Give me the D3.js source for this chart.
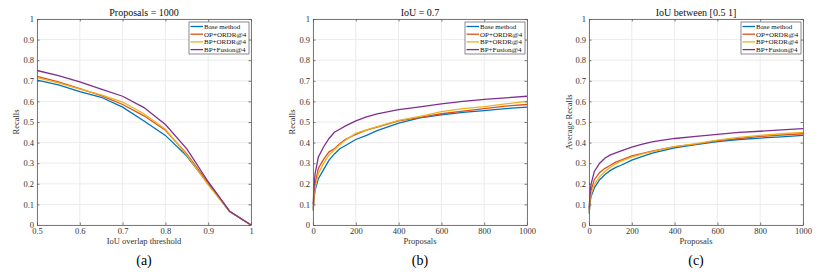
<!DOCTYPE html>
<html>
<head>
<meta charset="utf-8">
<script src="https://cdn.jsdelivr.net/npm/d3@7"></script>
<style>
  body { margin: 0; background: #fff; }
  svg { display: block; }
  text { font-family: "Liberation Serif", "DejaVu Serif", serif; }
</style>
</head>
<body>
<svg id="chart" width="830" height="277"></svg>
<script>
// series names + colours (matlab default order)
const methods = ["Base method", "OP+ORDR@4", "BP+ORDR@4", "BP+Fusion@4"];
const colors = ["#0072BD", "#D95319", "#EDB120", "#7E2F8E"];

// (a) recall vs IoU threshold, 1000 proposals
const iouX = [0.5, 0.55, 0.6, 0.65, 0.7, 0.75, 0.8, 0.85, 0.9, 0.95, 1.0];
const iouBase   = [0.703, 0.680, 0.648, 0.620, 0.572, 0.505, 0.435, 0.335, 0.200, 0.065, 0];
const iouOP     = [0.722, 0.695, 0.662, 0.628, 0.585, 0.530, 0.460, 0.345, 0.205, 0.067, 0];
const iouBP     = [0.715, 0.690, 0.660, 0.632, 0.597, 0.540, 0.465, 0.340, 0.195, 0.065, 0];
const iouFusion = [0.750, 0.725, 0.695, 0.660, 0.625, 0.570, 0.488, 0.370, 0.210, 0.067, 0];

// (b) recall vs proposals, IoU = 0.7
const propX = [1, 5, 10, 25, 50, 75, 100, 125, 150, 200, 250, 300, 400, 500, 600, 700, 800, 900, 1000];
const recBase   = [0.07, 0.13, 0.17, 0.225, 0.27, 0.315, 0.345, 0.37, 0.385, 0.415, 0.435, 0.458, 0.495, 0.52, 0.535, 0.547, 0.555, 0.565, 0.572];
const recOP     = [0.08, 0.15, 0.20, 0.275, 0.32, 0.355, 0.37, 0.395, 0.415, 0.44, 0.46, 0.475, 0.505, 0.522, 0.54, 0.553, 0.565, 0.577, 0.585];
const recBP     = [0.075, 0.14, 0.18, 0.25, 0.30, 0.34, 0.365, 0.39, 0.41, 0.445, 0.462, 0.478, 0.508, 0.527, 0.55, 0.565, 0.575, 0.588, 0.60];
const recFusion = [0.10, 0.19, 0.25, 0.33, 0.38, 0.42, 0.45, 0.465, 0.48, 0.505, 0.525, 0.54, 0.56, 0.573, 0.588, 0.60, 0.61, 0.617, 0.625];

// (c) average recall vs proposals, IoU in [0.5 1]
const arBase   = [0.055, 0.11, 0.14, 0.18, 0.22, 0.245, 0.265, 0.28, 0.29, 0.315, 0.333, 0.35, 0.375, 0.39, 0.405, 0.415, 0.422, 0.428, 0.435];
const arOP     = [0.07, 0.135, 0.17, 0.22, 0.255, 0.275, 0.29, 0.305, 0.315, 0.335, 0.348, 0.36, 0.38, 0.393, 0.41, 0.42, 0.43, 0.437, 0.443];
const arBP     = [0.065, 0.12, 0.15, 0.195, 0.235, 0.26, 0.28, 0.297, 0.31, 0.33, 0.345, 0.357, 0.38, 0.395, 0.412, 0.425, 0.435, 0.443, 0.45];
const arFusion = [0.08, 0.16, 0.20, 0.26, 0.30, 0.325, 0.34, 0.35, 0.36, 0.378, 0.393, 0.405, 0.42, 0.43, 0.44, 0.45, 0.455, 0.462, 0.468];

const yTicks = [0, 0.1, 0.2, 0.3, 0.4, 0.5, 0.6, 0.7, 0.8, 0.9, 1];

const panels = [
  { left: 37, right: 251, title: "Proposals = 1000", xlabel: "IoU overlap threshold", ylabel: "Recalls",
    tag: "(a)", domain: [0.5, 1], xTicks: [0.5, 0.6, 0.7, 0.8, 0.9, 1], fmt: d => d === 1 ? "1" : d3.format(".1f")(d),
    x: iouX, series: [iouBase, iouOP, iouBP, iouFusion], ylx: 19 },
  { left: 313, right: 527, title: "IoU = 0.7", xlabel: "Proposals", ylabel: "Recalls",
    tag: "(b)", domain: [0, 1000], xTicks: [0, 200, 400, 600, 800, 1000], fmt: d => d,
    x: propX, series: [recBase, recOP, recBP, recFusion], ylx: 295 },
  { left: 589, right: 803, title: "IoU between [0.5 1]", xlabel: "Proposals", ylabel: "Average Recalls",
    tag: "(c)", domain: [0, 1000], xTicks: [0, 200, 400, 600, 800, 1000], fmt: d => d,
    x: propX, series: [arBase, arOP, arBP, arFusion], ylx: 572 }
];

const plotTop = 19, plotBottom = 225;
const serif = "Liberation Serif, DejaVu Serif, serif";
const svg = d3.select("#chart");
const axisColor = "#5a5a5a";

panels.forEach(p => {
  const x = d3.scaleLinear().domain(p.domain).range([p.left, p.right]);
  const y = d3.scaleLinear().domain([0, 1]).range([plotBottom, plotTop]);
  const g = svg.append("g");

  // grid
  g.append("g").selectAll("line").data(p.xTicks).join("line")
    .attr("x1", d => x(d)).attr("x2", d => x(d)).attr("y1", plotTop).attr("y2", plotBottom)
    .attr("stroke", "#ececec").attr("stroke-width", 1);
  g.append("g").selectAll("line").data(yTicks).join("line")
    .attr("y1", d => y(d)).attr("y2", d => y(d)).attr("x1", p.left).attr("x2", p.right)
    .attr("stroke", "#ececec").attr("stroke-width", 1);

  // curves
  const line = d3.line().x((d, i) => x(p.x[i])).y(d => y(d));
  p.series.forEach((s, k) => {
    g.append("path").datum(s).attr("d", line)
      .attr("fill", "none").attr("stroke", colors[k]).attr("stroke-width", 1.3);
  });

  // axes, ticks pointing inward on all four sides
  const ax = [
    d3.axisBottom(x).tickValues(p.xTicks).tickFormat(p.fmt).tickSizeInner(-2.5).tickSizeOuter(0).tickPadding(3),
    d3.axisTop(x).tickValues(p.xTicks).tickFormat("").tickSizeInner(-2.5).tickSizeOuter(0),
    d3.axisLeft(y).tickValues(yTicks).tickFormat(d => d === 0 ? "0" : d === 1 ? "1" : d3.format(".1f")(d)).tickSizeInner(-2.5).tickSizeOuter(0).tickPadding(3),
    d3.axisRight(y).tickValues(yTicks).tickFormat("").tickSizeInner(-2.5).tickSizeOuter(0)
  ];
  const trans = [`translate(0,${plotBottom})`, `translate(0,${plotTop})`, `translate(${p.left},0)`, `translate(${p.right},0)`];
  ax.forEach((a, i) => {
    const ag = g.append("g").attr("transform", trans[i]).call(a).attr("font-family", serif);
    ag.select(".domain").attr("stroke", axisColor).attr("stroke-width", 0.8);
    ag.selectAll(".tick line").attr("stroke", axisColor).attr("stroke-width", 0.8);
    ag.selectAll(".tick text").attr("fill", "#333").attr("font-size", 8.5);
  });

  // title / labels
  g.append("text").attr("x", (p.left + p.right) / 2).attr("y", 16).attr("text-anchor", "middle")
    .attr("font-family", serif).attr("font-size", 10).attr("fill", "#111").text(p.title);
  g.append("text").attr("x", (p.left + p.right) / 2).attr("y", 243.5).attr("text-anchor", "middle")
    .attr("font-family", serif).attr("font-size", 8.5).attr("fill", "#333").text(p.xlabel);
  g.append("text").attr("transform", `translate(${p.ylx},${(plotTop + plotBottom) / 2}) rotate(-90)`)
    .attr("text-anchor", "middle").attr("font-family", serif).attr("font-size", 8.5)
    .attr("fill", "#333").text(p.ylabel);
  g.append("text").attr("x", (p.left + p.right) / 2).attr("y", 265).attr("text-anchor", "middle")
    .attr("font-family", serif).attr("font-size", 14).attr("fill", "#000").text(p.tag);

  // legend
  const lw = 60, lx = p.right - lw - 2, ly = 22;
  g.append("rect").attr("x", lx).attr("y", ly).attr("width", lw).attr("height", 32)
    .attr("fill", "#fff").attr("stroke", axisColor).attr("stroke-width", 0.7);
  methods.forEach((m, k) => {
    const yy = ly + 4.5 + k * 7.7;
    g.append("line").attr("x1", lx + 1.5).attr("x2", lx + 14).attr("y1", yy).attr("y2", yy)
      .attr("stroke", colors[k]).attr("stroke-width", 1.3);
    g.append("text").attr("x", lx + 15).attr("y", yy + 2.4).attr("font-family", serif)
      .attr("font-size", 7).attr("fill", "#111").text(m);
  });
});
</script>
</body>
</html>
